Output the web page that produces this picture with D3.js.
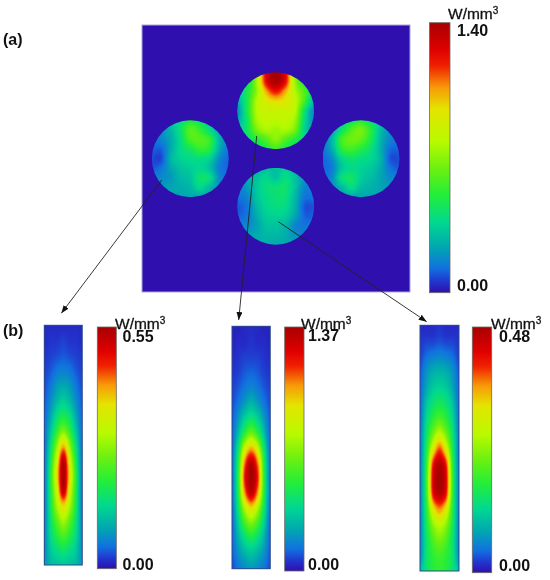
<!DOCTYPE html>
<html><head><meta charset="utf-8">
<script src="https://cdn.jsdelivr.net/npm/d3@7"></script>
<style>
html,body{margin:0;padding:0;background:#fff}
#wrap{position:relative;width:550px;height:580px;overflow:hidden}
canvas,svg{position:absolute;left:0;top:0}
text{font-family:"Liberation Sans",Arial,sans-serif;fill:#111}
</style></head><body><div id="wrap"></div>
<script>
// Colour ramp (position 0..1, bottom to top)
const rampStops  = [0, .04, .09, .17, .26, .36, .46, .56, .68, .76, .84, .90, 1];
const rampColors = ["#2f0fae","#2233cc","#1270e0","#00a8b0","#00d890","#22ee3a","#6cf010","#b8fa00","#e4e400","#f89a08","#f02000","#e00000","#a80000"];

// Scale maxima (W/mm3)
const scaleMaxA = 1.40, scaleMaxB1 = 0.55, scaleMaxB2 = 1.37, scaleMaxB3 = 0.48;
const unitLabel = "W/mm";

// Fields: fraction of the panel's colour-bar maximum, sampled on a coarse grid, top row first
const circleTop = [
[.30,.30,.50,.90,1.0,.90,.50,.30,.30],
[.24,.30,.52,.88,.99,.88,.52,.34,.24],
[.24,.33,.50,.74,.86,.74,.55,.42,.28],
[.19,.33,.55,.65,.69,.66,.58,.40,.20],
[.13,.33,.55,.60,.60,.60,.56,.30,.12],
[.18,.31,.53,.57,.57,.57,.52,.27,.13],
[.24,.31,.47,.54,.52,.54,.47,.25,.18],
[.25,.30,.35,.42,.50,.42,.35,.28,.25],
[.30,.30,.30,.35,.40,.35,.30,.30,.30]];
const circleLeft = [
[.20,.20,.25,.28,.35,.30,.25,.20,.20],
[.12,.14,.20,.30,.43,.38,.28,.18,.15],
[.10,.12,.18,.28,.41,.43,.38,.20,.12],
[.08,.08,.18,.27,.32,.38,.35,.18,.10],
[.06,.06,.20,.25,.27,.28,.25,.13,.08],
[.07,.10,.17,.22,.24,.26,.22,.11,.08],
[.12,.13,.15,.20,.22,.30,.28,.13,.10],
[.15,.15,.17,.18,.20,.26,.20,.14,.12],
[.17,.17,.17,.17,.17,.17,.17,.15,.15]];
const circleRight = [
[.20,.20,.25,.32,.37,.30,.25,.20,.20],
[.15,.18,.30,.42,.47,.36,.22,.14,.12],
[.12,.20,.40,.46,.44,.34,.20,.12,.10],
[.10,.18,.36,.40,.35,.29,.19,.09,.08],
[.08,.13,.26,.30,.28,.26,.20,.07,.06],
[.08,.11,.23,.27,.25,.23,.18,.10,.07],
[.10,.13,.28,.31,.24,.21,.17,.13,.12],
[.12,.14,.20,.27,.21,.19,.17,.15,.15],
[.15,.15,.17,.17,.17,.17,.17,.17,.17]];
const circleBottom = [
[.20,.20,.20,.22,.22,.24,.20,.20,.20],
[.15,.18,.22,.26,.22,.28,.22,.15,.15],
[.12,.15,.23,.28,.29,.30,.22,.12,.12],
[.10,.12,.22,.27,.29,.29,.20,.10,.10],
[.07,.10,.20,.26,.28,.27,.19,.07,.07],
[.08,.10,.18,.24,.25,.24,.17,.08,.08],
[.12,.13,.16,.22,.22,.20,.12,.10,.10],
[.15,.16,.18,.20,.20,.18,.14,.12,.12],
[.17,.17,.18,.18,.18,.18,.17,.15,.15]];
const stripOne = [
[.03,.03,.03,.03,.03,.03,.03],
[.03,.04,.04,.05,.04,.04,.03],
[.04,.05,.06,.07,.06,.05,.04],
[.05,.07,.10,.11,.10,.07,.05],
[.06,.10,.15,.17,.15,.10,.06],
[.07,.13,.20,.24,.20,.13,.07],
[.08,.17,.28,.33,.28,.17,.08],
[.09,.22,.37,.47,.37,.22,.09],
[.09,.28,.50,.72,.50,.28,.09],
[.10,.33,.62,.96,.62,.33,.10],
[.10,.36,.68,1.0,.68,.36,.10],
[.10,.35,.62,.96,.62,.35,.10],
[.10,.33,.54,.70,.54,.33,.10],
[.11,.30,.44,.54,.44,.30,.11],
[.12,.27,.36,.42,.36,.27,.12],
[.13,.23,.28,.31,.28,.23,.13],
[.14,.20,.22,.23,.22,.20,.14]];
const stripTwo = [
[.02,.02,.03,.03,.03,.02,.02],
[.02,.03,.03,.04,.03,.03,.02],
[.03,.04,.05,.05,.05,.04,.03],
[.04,.05,.07,.08,.07,.05,.04],
[.05,.07,.10,.12,.10,.07,.05],
[.06,.10,.15,.19,.15,.10,.06],
[.07,.15,.24,.29,.24,.15,.07],
[.08,.21,.36,.45,.36,.21,.08],
[.09,.30,.58,.72,.58,.30,.09],
[.10,.36,.78,.97,.78,.36,.10],
[.10,.38,.86,1.0,.86,.38,.10],
[.10,.36,.76,.95,.76,.36,.10],
[.09,.31,.55,.68,.55,.31,.09],
[.08,.25,.40,.48,.40,.25,.08],
[.08,.19,.28,.33,.28,.19,.08],
[.07,.14,.19,.22,.19,.14,.07],
[.06,.10,.13,.15,.13,.10,.06]];
const stripThree = [
[.03,.03,.03,.04,.03,.03,.03],
[.04,.05,.05,.06,.05,.05,.04],
[.05,.09,.11,.12,.11,.09,.05],
[.07,.14,.18,.19,.18,.14,.07],
[.08,.17,.23,.25,.23,.17,.08],
[.09,.22,.29,.32,.29,.22,.09],
[.10,.26,.36,.41,.36,.26,.10],
[.11,.30,.46,.56,.46,.30,.11],
[.11,.34,.62,.80,.62,.34,.11],
[.12,.38,.84,.97,.84,.38,.12],
[.12,.40,.90,1.0,.90,.40,.12],
[.12,.39,.86,.96,.86,.39,.12],
[.12,.36,.64,.76,.64,.36,.12],
[.12,.33,.50,.57,.50,.33,.12],
[.13,.30,.42,.47,.42,.30,.13],
[.14,.30,.37,.40,.37,.30,.14],
[.22,.30,.36,.38,.36,.30,.22]];

const W = 550, H = 580;
const color = d3.scaleLinear().domain(rampStops).range(rampColors).interpolate(d3.interpolateRgb).clamp(true);

const wrap = d3.select("#wrap");
const canvas = wrap.append("canvas").attr("width", W).attr("height", H).node();
const ctx = canvas.getContext("2d");
ctx.fillStyle = "#fff"; ctx.fillRect(0,0,W,H);

function cr(p0,p1,p2,p3,t){
  return .5*((2*p1)+(-p0+p2)*t+(2*p0-5*p1+4*p2-p3)*t*t+(-p0+3*p1-3*p2+p3)*t*t*t);
}
function sample(grid,gx,gy){
  const nr=grid.length,nc=grid[0].length;
  const ci=Math.min(nc-2,Math.max(0,Math.floor(gx))),ri=Math.min(nr-2,Math.max(0,Math.floor(gy)));
  const at=(r,c)=>grid[Math.max(0,Math.min(nr-1,r))][Math.max(0,Math.min(nc-1,c))];
  const row=r=>cr(at(r,ci-1),at(r,ci),at(r,ci+1),at(r,ci+2),gx-ci);
  return cr(row(ri-1),row(ri),row(ri+1),row(ri+2),gy-ri);
}
function drawField(grid,x0,x1,y0,y1){
  const w=Math.ceil(x1-x0),h=Math.ceil(y1-y0);
  const off=document.createElement("canvas");off.width=w;off.height=h;
  const oc=off.getContext("2d"),img=oc.createImageData(w,h);
  const gx=d3.scaleLinear().domain([0,w]).range([0,grid[0].length-1]);
  const gy=d3.scaleLinear().domain([0,h]).range([0,grid.length-1]);
  for(let j=0;j<h;j++)for(let i=0;i<w;i++){
    const c=d3.rgb(color(sample(grid,gx(i+.5),gy(j+.5)))),k=(j*w+i)*4;
    img.data[k]=c.r;img.data[k+1]=c.g;img.data[k+2]=c.b;img.data[k+3]=255;
  }
  oc.putImageData(img,0,0);
  return off;
}

// Panel (a)
const square = {x0:142,x1:410,y0:25,y1:292};
const bar = {x0:429.5,x1:450,y0:22.7,y1:292.7};
ctx.fillStyle = rampColors[0];
ctx.fillRect(square.x0,square.y0,square.x1-square.x0,square.y1-square.y0);
const circles = [
 {grid:circleTop,cx:275.7,cy:110.7,r:38.5},
 {grid:circleLeft,cx:190.3,cy:158.7,r:38.5},
 {grid:circleRight,cx:361,cy:158.7,r:38.5},
 {grid:circleBottom,cx:275.7,cy:206.3,r:38.5}];
circles.forEach(c=>{
  const off=drawField(c.grid,c.cx-c.r,c.cx+c.r,c.cy-c.r,c.cy+c.r);
  ctx.save();ctx.beginPath();ctx.arc(c.cx,c.cy,c.r,0,2*Math.PI);ctx.clip();
  ctx.drawImage(off,c.cx-c.r,c.cy-c.r);ctx.restore();
});

// Panel (b)
const strips = [
 {grid:stripOne,x0:44.3,x1:82.3,y0:325.3,y1:565},
 {grid:stripTwo,x0:232,x1:270.3,y0:326.3,y1:568.7},
 {grid:stripThree,x0:420,x1:459,y0:325.3,y1:571}];
strips.forEach(s=>{
  ctx.drawImage(drawField(s.grid,s.x0,s.x1,s.y0,s.y1),s.x0,s.y0,s.x1-s.x0,s.y1-s.y0);
});

const svg = wrap.append("svg").attr("width",W).attr("height",H);
const defs = svg.append("defs");
const grad = defs.append("linearGradient").attr("id","ramp").attr("x1",0).attr("x2",0).attr("y1",1).attr("y2",0);
grad.selectAll("stop").data(rampStops).join("stop")
  .attr("offset",d=>d).attr("stop-color",(d,i)=>rampColors[i]);
defs.append("marker").attr("id","head").attr("viewBox","0 0 8 6").attr("refX",8).attr("refY",3)
  .attr("markerWidth",8).attr("markerHeight",6).attr("markerUnits","userSpaceOnUse").attr("orient","auto")
  .append("path").attr("d","M0,0L8,3L0,6Z").attr("fill","#111");

svg.append("rect").attr("x",square.x0).attr("y",square.y0).attr("width",square.x1-square.x0).attr("height",square.y1-square.y0)
  .attr("fill","none").attr("stroke","#aaa6dc").attr("stroke-width",1);
strips.forEach(s=>svg.append("rect").attr("x",s.x0).attr("y",s.y0).attr("width",s.x1-s.x0).attr("height",s.y1-s.y0)
  .attr("fill","none").attr("stroke","#2c4a8c").attr("stroke-width",1));

const bars = [
 {...bar,max:scaleMaxA,lx:457,ty:13,tx:448,top:30,bot:285},
 {x0:97.3,x1:116.3,y0:327,y1:568.7,max:scaleMaxB1,lx:122.5,tx:115,ty:323,top:336,bot:564.5},
 {x0:284.7,x1:304,y0:327,y1:571,max:scaleMaxB2,lx:308,tx:301,ty:323,top:335,bot:564.5},
 {x0:472.3,x1:491.7,y0:327,y1:572.7,max:scaleMaxB3,lx:499,tx:491,ty:323,top:336,bot:565}];
bars.forEach(b=>{
  svg.append("rect").attr("x",b.x0).attr("y",b.y0).attr("width",b.x1-b.x0).attr("height",b.y1-b.y0)
    .attr("fill","url(#ramp)").attr("stroke","#6a6a60").attr("stroke-width",.8);
  const y=d3.scaleLinear().domain([0,b.max]).range([b.bot,b.top]);
  const g=svg.append("g").attr("transform",`translate(${b.lx},0)`)
    .call(d3.axisRight(y).tickValues([0,b.max]).tickSize(0).tickPadding(0).tickFormat(d3.format(".2f")));
  g.select(".domain").remove();
  g.selectAll("text").attr("font-family",'"Liberation Sans",Arial,sans-serif').attr("font-size",16).attr("font-weight",700).attr("fill","#111");
  const t=svg.append("text").attr("x",b.tx).attr("y",b.ty+6).attr("font-size",15.5).attr("font-weight",400).attr("stroke","#111").attr("stroke-width",.3);
  t.append("tspan").text(unitLabel);
  t.append("tspan").attr("dy",-5).attr("font-size",10).text("3");
});

// Leader arrows
const arrows = [
 [161.7,180,61.3,313.3],
 [256.7,136,238.7,320],
 [278.3,221.7,426.7,321.7]];
svg.selectAll("line.arrow").data(arrows).join("line").attr("class","arrow")
  .attr("x1",d=>d[0]).attr("y1",d=>d[1]).attr("x2",d=>d[2]).attr("y2",d=>d[3])
  .attr("stroke","#222").attr("stroke-width",.9).attr("marker-end","url(#head)");

// Panel labels
svg.selectAll("text.panel").data([["(a)",3,45],["(b)",3,336]]).join("text").attr("class","panel")
  .attr("x",d=>d[1]).attr("y",d=>d[2]).attr("font-size",16).attr("font-weight",700).text(d=>d[0]);
</script></body></html>
